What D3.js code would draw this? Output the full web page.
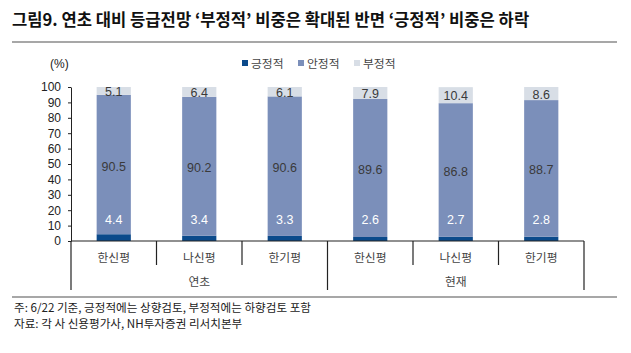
<!DOCTYPE html>
<html>
<head>
<meta charset="utf-8">
<script src="https://cdn.jsdelivr.net/npm/d3@7"></script>
<style>
  body { margin: 0; background: #fff; }
  svg text { font-family: "Liberation Sans Narrow", "Liberation Sans", "Noto Sans CJK KR", sans-serif; }
</style>
</head>
<body>
<svg id="chart" width="631" height="353"></svg>
<script>
/** Chart values */
var agencies = ['한신평', '나신평', '한기평', '한신평', '나신평', '한기평'];
var periods = ['연초', '현재'];
var positive = [4.4, 3.4, 3.3, 2.6, 2.7, 2.8];
var stable = [90.5, 90.2, 90.6, 89.6, 86.8, 88.7];
var negative = [5.1, 6.4, 6.1, 7.9, 10.4, 8.6];
var seriesNames = ['긍정적', '안정적', '부정적'];
var yTicks = [0, 10, 20, 30, 40, 50, 60, 70, 80, 90, 100];

var colors = ['#0b4a8b', '#7b8fba', '#d8dee6'];
var labelColors = ['#ffffff', '#3a3a3a', '#3a3a3a'];

var svg = d3.select('#chart');
var krFont = '"Noto Sans CJK KR", sans-serif';

/** Title + rules */
svg.append('text')
    .attr('x', 12).attr('y', 26)
    .style('font-family', krFont)
    .style('font-size', '16.6px').style('font-weight', 'bold')
    .attr('fill', '#111')
    .text('그림9. 연초 대비 등급전망 ‘부정적’ 비중은 확대된 반면 ‘긍정적’ 비중은 하락');
svg.append('line').attr('x1', 12).attr('x2', 617).attr('y1', 42).attr('y2', 42)
    .attr('stroke', '#8a8a8a').attr('stroke-width', 1.5);
svg.append('line').attr('x1', 12).attr('x2', 617).attr('y1', 297).attr('y2', 297)
    .attr('stroke', '#8a8a8a').attr('stroke-width', 1.5);

/** Scales */
var x = d3.scaleBand().domain(d3.range(agencies.length)).range([71, 584]).paddingInner(0).paddingOuter(0);
var y = d3.scaleLinear().domain([0, 100]).range([241, 87]);
var barW = x.bandwidth() * 0.4;

/** Y axis */
var yAxis = svg.append('g').attr('transform', 'translate(71,0)')
    .call(d3.axisLeft(y).tickValues(yTicks).tickSize(3).tickSizeOuter(0));
yAxis.select('.domain').attr('stroke', '#222');
yAxis.selectAll('.tick line').attr('stroke', '#222');
yAxis.selectAll('.tick text').attr('x', -10).attr('fill', '#222').style('font-size', '12px')
    .style('font-family', '"Liberation Sans Narrow", "Liberation Sans", sans-serif');

svg.append('text').attr('x', 50).attr('y', 68).attr('fill', '#222').style('font-size', '12px').text('(%)');

/** Stacked bars */
var rows = agencies.map(function (a, i) {
    return { i: i, vals: [positive[i], stable[i], negative[i]] };
});
rows.forEach(function (r) {
    var base = 0;
    r.vals.forEach(function (v, k) {
        var top = Math.min(base + v, 100);
        svg.append('rect')
            .attr('x', x(r.i) + (x.bandwidth() - barW) / 2)
            .attr('y', y(top))
            .attr('width', barW)
            .attr('height', y(base) - y(top))
            .attr('fill', colors[k]);
        base = top;
    });
});

/** Value labels */
var cx = function (i) { return x(i) + x.bandwidth() / 2; };
var lbl = svg.append('g').style('font-size', '12.5px').attr('text-anchor', 'middle');
rows.forEach(function (r) {
    lbl.append('text').attr('x', cx(r.i)).attr('y', y(4.4) - 10).attr('fill', labelColors[0]).text(r.vals[0].toFixed(1));
    lbl.append('text').attr('x', cx(r.i)).attr('y', y(r.vals[0] + r.vals[1] / 2) + 6).attr('fill', labelColors[1]).text(r.vals[1].toFixed(1));
    lbl.append('text').attr('x', cx(r.i)).attr('y', y(100 - r.vals[2] / 2) + 5).attr('fill', labelColors[2]).text(r.vals[2].toFixed(1));
});

/** X axis line, separators and category labels */
svg.append('line').attr('x1', 71).attr('x2', 584).attr('y1', 241).attr('y2', 241).attr('stroke', '#222').attr('stroke-width', 1.2);
d3.range(agencies.length + 1).forEach(function (i) {
    var xp = i < agencies.length ? x(i) : x(agencies.length - 1) + x.bandwidth();
    var outer = (i % 3 === 0);
    svg.append('line').attr('x1', xp).attr('x2', xp).attr('y1', 241).attr('y2', outer ? 290 : 265)
        .attr('stroke', '#222').attr('stroke-width', 1.2);
});
svg.append('g').selectAll('text').data(agencies).enter().append('text')
    .attr('x', function (d, i) { return cx(i); })
    .attr('y', 262).attr('text-anchor', 'middle')
    .style('font-family', krFont).style('font-size', '11.8px').attr('fill', '#444')
    .text(function (d) { return d; });
svg.append('g').selectAll('text').data(periods).enter().append('text')
    .attr('x', function (d, i) { return (x(i * 3) + x(i * 3 + 2) + x.bandwidth()) / 2; })
    .attr('y', 286).attr('text-anchor', 'middle')
    .style('font-family', krFont).style('font-size', '11.8px').attr('fill', '#444')
    .text(function (d) { return d; });

/** Legend */
var legX = [242, 298, 354];
var leg = svg.append('g');
seriesNames.forEach(function (n, k) {
    leg.append('rect').attr('x', legX[k]).attr('y', 60).attr('width', 6).attr('height', 6).attr('fill', colors[k]);
    leg.append('text').attr('x', legX[k] + 9).attr('y', 68)
        .style('font-family', krFont).style('font-size', '11.8px').attr('fill', '#444').text(n);
});

/** Footnotes */
svg.append('text').attr('x', 14).attr('y', 312).style('font-family', krFont).style('font-size', '11.6px')
    .attr('fill', '#222').text('주: 6/22 기준, 긍정적에는 상향검토, 부정적에는 하향검토 포함');
svg.append('text').attr('x', 14).attr('y', 328).style('font-family', krFont).style('font-size', '11.6px')
    .attr('fill', '#222').text('자료: 각 사 신용평가사, NH투자증권 리서치본부');
</script>
</body>
</html>
